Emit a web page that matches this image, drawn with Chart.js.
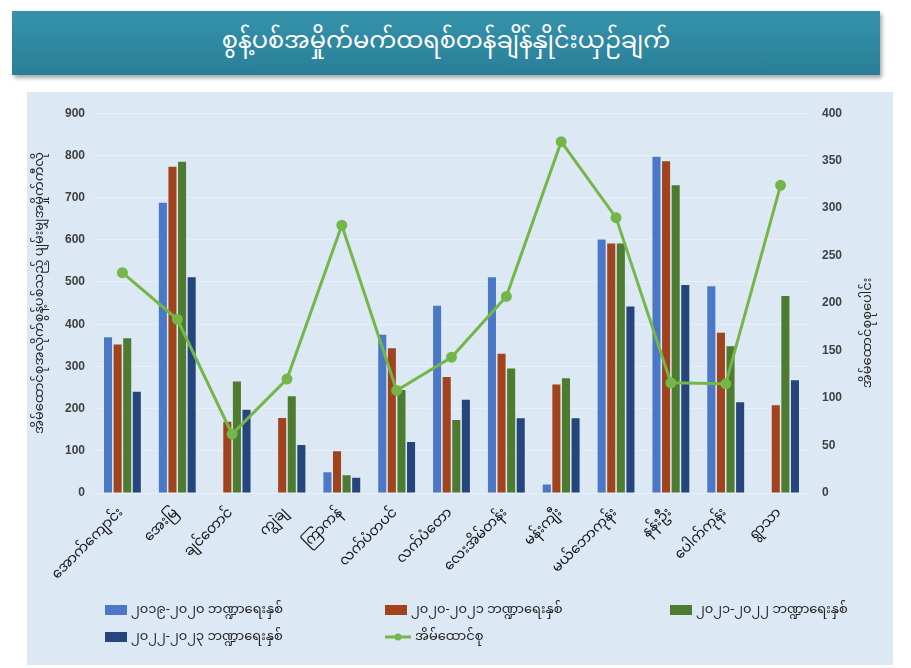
<!DOCTYPE html>
<html>
<head>
<meta charset="utf-8">
<script src="https://cdn.jsdelivr.net/npm/chart.js@4"></script>
<style>
  body { margin: 0; width: 911px; height: 668px; background: #ffffff; position: relative; overflow: hidden;
         font-family: "Noto Sans Myanmar", "Padauk", "Myanmar Text", "Noto Sans", sans-serif; }
  #banner { position: absolute; left: 12px; top: 11px; width: 868px; height: 64px;
            background: linear-gradient(#3592ab, #2a7f98); box-shadow: 2px 3px 4px rgba(0,0,0,0.35);
            color: #fff; font-size: 24px; text-align: center; line-height: 64px; }
  #panel { position: absolute; left: 27px; top: 92px; width: 866px; height: 573px; background: #dce9f4; }
  #wrap { position: absolute; left: 0; top: 0; width: 866px; height: 505px; }
  #legend { position: absolute; left: 78px; top: 500px; width: 780px; font-size: 13px; color: #222; }
  .item { position: absolute; display: flex; align-items: center; }
  .sw { width: 22px; height: 10px; margin-right: 4px; }
</style>
</head>
<body>
<div id="banner">စွန့်ပစ်အမှိုက်မက်ထရစ်တန်ချိန်နှိုင်းယှဉ်ချက်</div>
<div id="panel">
  <div id="wrap"><canvas id="chart"></canvas></div>
  <div id="legend"></div>
</div>
<script>
const categories = ['အောက်ကျောင်း', 'အေးမြ', 'ချင်တောင်', 'ကျွဲချ', 'ကြာကန်', 'လက်ပံတပင်', 'လက်ပံတော',
  'လေးအိမ်တန်း', 'မန်းကျီး', 'မယ်ဘောကုန်း', 'နန်းဦး', 'ပေါက်ကုန်း', 'ရွာသာ'];
const seriesNames = ['၂၀၁၉-၂၀၂၀ ဘဏ္ဍာရေးနှစ်', '၂၀၂၀-၂၀၂၁ ဘဏ္ဍာရေးနှစ်', '၂၀၂၁-၂၀၂၂ ဘဏ္ဍာရေးနှစ်',
  '၂၀၂၂-၂၀၂၃ ဘဏ္ဍာရေးနှစ်'];
const lineName = 'အိမ်ထောင်စု';
const fy2019 = [369, 688, 0, 0, 49, 375, 444, 511, 20, 601, 797, 490, 0];
const fy2020 = [352, 773, 169, 178, 99, 343, 275, 330, 257, 591, 786, 380, 208];
const fy2021 = [367, 785, 264, 229, 42, 244, 173, 295, 272, 591, 729, 348, 467];
const fy2022 = [240, 511, 197, 114, 36, 121, 221, 177, 177, 442, 493, 215, 267];
const households = [232, 183, 62, 120, 282, 108, 143, 207, 370, 290, 116, 115, 324];
const leftTicks = [0, 900, 100];
const rightTicks = [0, 400, 50];
const leftTitle = 'အိမ်ထောင်စုအလိုက်စွန့်ပစ်သည့် ပျမ်းမျှအမှိုက်ကီလို';
const rightTitle = 'အိမ်ထောင်စုစုပေါင်း';

const barColors = ['#4a78c6', '#a1431d', '#4d7b30', '#25457c'];
const lineColor = '#74b648';
const tickFont = { family: '"Liberation Sans", sans-serif', size: 12, weight: 'bold' };
const mmFont = '"Noto Sans Myanmar", "Padauk", "Noto Sans", sans-serif';

const barSeries = [fy2019, fy2020, fy2021, fy2022];
const datasets = barSeries.map((vals, i) => ({
  type: 'bar', label: seriesNames[i], data: vals, backgroundColor: barColors[i],
  yAxisID: 'y', order: 2, barPercentage: 0.84, categoryPercentage: 0.7
}));
datasets.push({
  type: 'line', label: lineName, data: households, borderColor: lineColor, backgroundColor: lineColor,
  borderWidth: 3, pointRadius: 4, pointBackgroundColor: lineColor, yAxisID: 'y1', order: 0, tension: 0
});

// axis titles both read bottom-to-top, so drawn by hand
const axisTitles = {
  id: 'axisTitles',
  afterDraw(chart) {
    const c = chart.ctx;
    const put = (text, x, y) => {
      c.save();
      c.fillStyle = '#222';
      c.font = '13px ' + mmFont;
      c.textAlign = 'center';
      c.textBaseline = 'middle';
      c.translate(x, y);
      c.rotate(-Math.PI / 2);
      c.fillText(text, 0, 0);
      c.restore();
    };
    put(leftTitle, 15, 201);
    put(rightTitle, 843, 241);
  }
};

new Chart(document.getElementById('chart'), {
  data: { labels: categories, datasets: datasets },
  plugins: [axisTitles],
  options: {
    responsive: true, maintainAspectRatio: false, animation: false,
    layout: { padding: { top: 11, left: 0, right: 0 } },
    plugins: { legend: { display: false }, tooltip: { enabled: false } },
    scales: {
      x: {
        grid: { display: false }, border: { display: false },
        ticks: { minRotation: 45, maxRotation: 45, color: '#111', font: { family: mmFont, size: 14 }, padding: 5 },
        afterFit(s) { s.height = 104; }
      },
      y: {
        position: 'left', min: leftTicks[0], max: leftTicks[1],
        ticks: { stepSize: leftTicks[2], color: '#404040', font: tickFont, padding: 10 },
        grid: { color: '#e7f0f8', lineWidth: 1, drawTicks: false }, border: { display: false },
        afterFit(s) { s.width = 68; }
      },
      y1: {
        position: 'right', min: rightTicks[0], max: rightTicks[1],
        ticks: { stepSize: rightTicks[2], color: '#404040', font: tickFont, padding: 14 },
        grid: { display: false, drawTicks: false }, border: { display: false },
        afterFit(s) { s.width = 85; }
      }
    }
  }
});

const legendPos = [[0, 0], [280, 0], [565, 0], [0, 27], [280, 27]];
const legend = document.getElementById('legend');
datasets.forEach((d, i) => {
  const el = document.createElement('div');
  el.className = 'item';
  el.style.left = legendPos[i][0] + 'px';
  el.style.top = (legendPos[i][1] + 4) + 'px';
  let sw;
  if (d.type === 'bar') {
    sw = '<span class="sw" style="background:' + d.backgroundColor + '"></span>';
  } else {
    sw = '<svg width="26" height="10" style="margin-right:4px"><line x1="0" y1="5" x2="26" y2="5" stroke="' +
      lineColor + '" stroke-width="3"/><circle cx="13" cy="5" r="3.5" fill="' + lineColor + '"/></svg>';
  }
  el.innerHTML = sw + '<span>' + d.label + '</span>';
  legend.appendChild(el);
});
</script>
</body>
</html>
